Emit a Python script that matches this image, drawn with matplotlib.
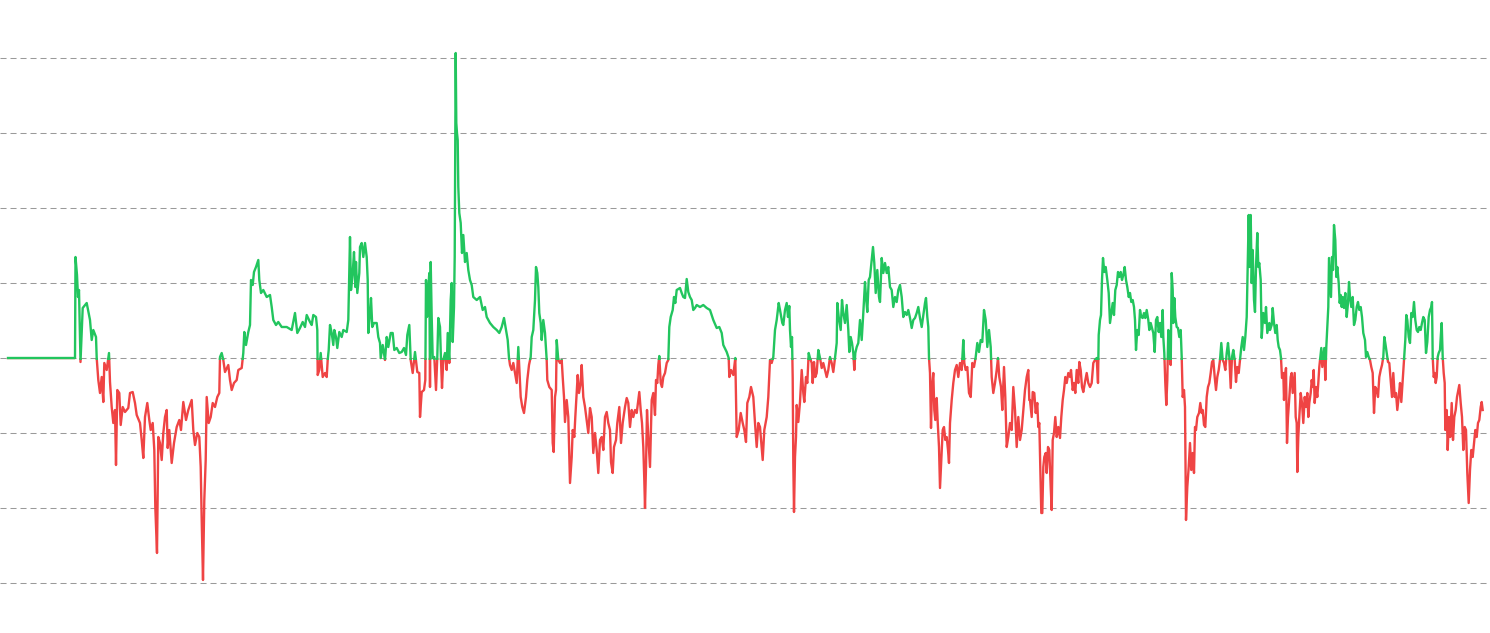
import matplotlib
matplotlib.use("Agg")
import matplotlib.pyplot as plt
from matplotlib.patches import Rectangle

# time index and value relative to the baseline (arbitrary units, grid step = 75)
t = [8, 75, 75.5, 77, 78, 79, 80.5, 81.5, 82.7, 86.7, 90, 91.7, 93.3, 96, 96.7, 98.3, 100, 101.7, 103.3, 104.3,
     106.7, 109, 110, 111.7, 113.3, 115, 116, 117.3, 119.3, 120.7, 122.7, 125, 128.3, 130, 132.7, 135, 136.7, 140,
     141.7, 143.3, 145, 147.3, 149.3, 150.7, 152.7, 154.3, 155.3, 157, 158.3, 160, 161.7, 163.3, 165, 166.7, 167.7,
     169.3, 171.7, 174, 176.7, 179.3, 181, 183.3, 186, 188.3, 191.7, 193.3, 195, 197.3, 199.3, 200.7, 201.7, 203,
     204.3, 205.7, 206.7, 208.7, 210.7, 212.7, 215, 217.3, 219.3, 220, 221.7, 223.3, 225, 228.3, 230, 231.7, 234,
     236.7, 238.3, 241.7, 243.3, 244.3, 246, 248.3, 250, 251, 252.7, 254, 256, 258.3, 259.3, 261, 263.3, 266.7, 270,
     271.7, 273.3, 276, 278.3, 281.7, 286.7, 291.7, 295, 297.3, 300, 302.7, 305, 306.7, 310,
     311.7, 313.3, 316, 317.3, 317.7, 319.3, 320.7, 322.7, 325, 326.7, 327.7, 328.7, 330, 331.7, 333.3, 334.3, 336,
     337.3, 339.3, 341.7, 343.3, 346.7, 348.3, 349.3, 350, 351, 352.7, 354, 355.3, 356, 357.3, 359.3, 360, 361.7,
     363.3, 365, 366.7, 367.7, 368.3, 370, 371, 372.3, 374, 376.7, 378.3, 380, 380.7, 382.7, 385, 386.7, 388.3, 390.7,
     392.7, 394.3, 396.7, 399.3, 401.7, 404, 406, 407.3, 409.3, 410.7, 412.7, 415, 417.3, 419.3, 420, 421.7, 424,
     425.3, 426, 427, 428, 429.3, 430, 430.7, 431.7, 432.7, 434.3, 436, 437.3, 438.3, 440, 441, 442, 443.3, 445,
     446.7, 447.7, 449.3, 450.7, 451.7, 452.7, 454, 454.7, 455.3, 455.7, 456.3, 457, 457.7, 458.3, 459.3, 460.7, 462,
     463.3, 465, 466.7, 468.3, 470, 471.7, 473.3, 476.7, 480, 482.7, 485, 486.7, 490, 493.3, 496.7, 499.3, 501.7, 504,
     506, 507.7, 509, 510, 511.7, 513.3, 515, 516.7, 518.3, 519.3, 520.7, 522.3, 524, 526, 527.3, 529, 530.7, 531.7,
     533.3, 535, 536, 537.3, 538.3, 539.3, 540.7, 541.7, 543.3, 545, 546.7, 547.3, 549.3,
     551.7, 552.7, 553.7, 555, 556, 556.7, 558.3, 560, 561.7, 562.7, 564, 565, 566.7, 568.3, 570, 571.7, 572.7, 574.3,
     575.3, 576.7, 577.7, 579, 580.7, 581.7, 583.3, 585, 586.7, 588.3, 590, 591.7, 593.3, 595, 596.7, 598.3, 600,
     601.7, 603.3, 605, 606.7, 608.3, 610, 611, 612.7, 614, 616, 617.3, 619.3, 621, 622.7, 625, 626.7, 628.3, 630,
     631.7, 633.3, 635, 636.7, 638.3, 639.3, 640.7, 642, 643.3, 644.3, 645, 646, 647, 648.3, 650, 651.7, 653.3, 655,
     656, 657.3, 658.3, 659.3, 660.7, 662, 663.3, 665, 666.7, 668.3, 669.3, 670.7, 672.7, 674, 675.3, 676.7, 680,
     681.7, 683.3, 685, 686.7, 688.3, 690, 691.7, 693.3, 695, 696.7, 700, 703.3, 706.7, 710, 713.3, 716.7, 719.3,
     721.7, 723.3, 726.7, 728.7, 729.3, 731, 733.3, 735.3, 736.7, 738.7, 740.7, 742.7, 744.3, 746, 747.3, 749.3, 751,
     753.3, 755, 756.7, 758.3, 760, 762.7, 764.3, 766.7, 768.3, 770, 771.7, 773.3, 775, 776.7, 778.7, 780, 782.3,
     783.3, 785, 786.7, 788, 789.3, 790, 791, 792, 792.7, 793.3, 794, 795, 796, 796.7, 798.3, 800, 801.7, 803.3, 804.3,
     806, 807.3, 808.7, 810, 811.7, 812.7, 814, 815.3, 816.7, 818.3, 820, 821.7, 823.3, 825, 826.7, 828.3, 830, 831.7,
     833.3, 835, 836.7, 837.3, 838.7, 840.7, 842, 843.3, 845, 846.7, 848.3, 849.3, 850.7, 852, 853.3, 854.3, 855.3,
     856.7, 858.3, 860, 861.7, 863.3, 865, 866, 867.3, 868.7, 870, 871.7, 873, 874.3, 875.7, 877.3, 879, 880, 881.7,
     883.3, 885, 886.7, 888.3, 890, 891.7, 893.3, 895, 896.7, 898.3, 900, 901.7, 903.3, 905, 906.7, 908.3, 910, 911.7,
     913.3, 915, 916.7, 918.3, 920, 921.7, 923.3, 925, 926, 927.3, 928.3, 929, 930, 931, 932, 933.3, 934.3, 935.3,
     936.7, 937.7, 939, 940, 941.3, 942.7, 944, 945.3, 946.7, 948, 949, 950, 951.7, 953.3, 955, 956.7, 958.3, 960,
     961.7, 963.3, 964.3, 965.7, 967.3, 969, 970.7, 972.3, 974, 975.7, 977.3, 979, 980.7, 982.3, 984, 985.7, 987.3,
     989, 990.7, 991.7, 993.3, 995, 996.7, 998, 999.3, 1001, 1002.3, 1004, 1005.3, 1006.7, 1008.3, 1010, 1011.7,
     1013.3, 1015, 1016.7, 1018.3, 1020, 1021.7, 1023.3, 1025, 1026.7, 1028.3, 1029.3,
     1030, 1031.7, 1032.7, 1034.3, 1035.7, 1037.3, 1038.3, 1039.3, 1040.7, 1041.3, 1042.3, 1043.3, 1044.3, 1045.7,
     1046.7, 1048, 1049.3, 1050.7, 1051.7, 1052.7, 1054, 1055.3, 1056.7, 1058.3, 1060, 1061.3, 1062.7, 1064, 1065.3,
     1066.7, 1068.3, 1070, 1071, 1072.7, 1074, 1075.3, 1076.7, 1078.3, 1079.3, 1080.7, 1082, 1083.3, 1085, 1086.7,
     1088.3, 1090, 1091.7, 1093.3, 1095, 1096.7, 1098, 1098.7, 1100, 1101, 1102, 1103, 1104.3, 1105.7, 1107.3, 1108.7,
     1110, 1111.3, 1112.7, 1114, 1115.3, 1116.7, 1118, 1119.3, 1120.7, 1122, 1123.3, 1124.7, 1126, 1127.3, 1128.7,
     1130, 1131.3, 1132.7, 1134, 1135, 1136, 1137.3, 1138.7, 1140, 1141.3, 1142.7, 1144, 1145.3, 1146.7, 1148.3,
     1149.3, 1150.7, 1152, 1153.3, 1154.7, 1156, 1157.3, 1158.7, 1160, 1161.3, 1162.7, 1163.3, 1164.3, 1165.3, 1166.3,
     1167.3, 1168.3, 1169.3, 1170.7, 1171.7, 1172.7, 1173.3, 1174.3, 1175.3, 1176.7, 1178, 1179.3, 1180.7, 1181.7,
     1182.7, 1184, 1185, 1186, 1187.3, 1188.7, 1190, 1191.3, 1192.7, 1194, 1195, 1196, 1197.3, 1199, 1200.3, 1201.7,
     1202.7, 1204, 1205.3, 1206.7, 1208, 1209.3, 1210.7, 1212, 1213.3, 1214.7, 1216, 1217.3, 1218.7, 1220, 1221.3,
     1222.7, 1224, 1225.3, 1226.7, 1228, 1229.3, 1230.7, 1232, 1233.3, 1234.7, 1236, 1237.3, 1238.7, 1240, 1241.3,
     1242.7, 1244, 1245.3, 1246.7, 1247.7, 1248.7, 1249.7, 1250.7, 1251.7, 1252.7, 1254, 1255, 1256, 1257.3, 1258.3,
     1259.3, 1260.7, 1261.7, 1263.3, 1265, 1266, 1267.3, 1269.3,
     1270, 1271.7, 1272.7, 1274, 1275.3, 1276.7, 1277.7, 1278.7, 1280, 1281, 1282, 1283.3, 1284, 1285, 1286, 1287,
     1288, 1289.3, 1290.7, 1291.7, 1292.7, 1293.7, 1294.7, 1295.7, 1296.7, 1297.3, 1298.3, 1299.3, 1300.7, 1302,
     1303.3, 1304.7, 1306, 1307.3, 1308.3, 1309.3, 1310.7, 1311.7, 1312.7, 1313.7, 1314.7, 1316, 1317.3, 1318.3,
     1319.3, 1320.3, 1321.3, 1322.3, 1323.3, 1324.3, 1325.3, 1326.3, 1327.3, 1328.3, 1329, 1330, 1331, 1332, 1333,
     1334, 1335.3, 1336.3, 1337.3, 1338.7, 1339.7, 1340.7, 1341.7, 1342.7, 1344, 1345.3, 1346.7, 1348, 1349, 1350,
     1351.3, 1352.7, 1354, 1355.3, 1356.7, 1358, 1359.3, 1360.7, 1362, 1363.3, 1365, 1366, 1367.3, 1368.7, 1370,
     1371.3, 1372.7, 1374, 1375.3, 1376.7, 1378, 1379.3, 1380.7, 1382, 1383.3, 1384.3, 1385.3, 1386.7, 1388, 1389.3,
     1390.7, 1392, 1393.3, 1394.7, 1396, 1397.3, 1398.7, 1400, 1401.3, 1402.7, 1404, 1405.3, 1406.3, 1407.3, 1408.7,
     1410, 1411.3, 1412.7, 1414, 1415.3, 1416.7, 1418, 1419.3, 1420.7, 1422, 1423.3, 1424.7, 1426, 1427.3, 1428.7,
     1430, 1431.3, 1432, 1432.7, 1433.7, 1434.7, 1435.7, 1436.7, 1437.7, 1438.7, 1440, 1441, 1441.7, 1442.7, 1443.7,
     1444.7, 1445.3, 1446.7, 1447.7, 1449, 1450.3, 1451.7, 1453, 1454.3, 1455.7, 1457, 1458.3, 1459.3, 1460.7, 1462,
     1463.3, 1464.7, 1466, 1467.3, 1468.7, 1470, 1471.3, 1472.7, 1474, 1475.3, 1476.7, 1478, 1479.3, 1480.7, 1481.7,
     1482.7]

v = [0, 0, 101, 83, 61, 68, -4, 21, 50, 55, 38, 18, 28, 21, 0, -22, -35, -19, -44, -5,
     -12, 5, -24, -49, -65, -52, -107, -32, -35, -67, -49, -54, -50, -35, -34, -45, -57, -65,
     -82, -100, -59, -45, -62, -72, -65, -92, -149, -195, -79, -85, -102, -75, -59, -52, -90,
     -72, -105, -85, -69, -62, -72, -44, -62, -52, -42, -72, -87, -75, -79, -109, -162, -222,
     -142, -102, -39, -65, -59, -45, -49, -39, -35, 1, 5, -2, -14, -7, -22, -32, -25,
     -22, -12, -10, 5, 26, 13, 26, 33, 78, 73, 86, 91, 98, 78, 65, 68, 61, 63,
     51, 38, 33, 36, 31, 31, 28, 45, 25, 30, 36, 31, 43, 36,
     33, 43, 41, 28, -17, -12, 5, -19, -15, -19, -2, 8, 33, 25, 13, 28, 21,
     10, 26, 21, 28, 26, 38, 85, 121, 68, 85, 106, 71, 96, 65, 85, 111, 115,
     101, 115, 101, 78, 25, 45, 60, 31, 35, 35, 21, 15, 0, 13, -2, 21, 11, 25,
     25, 8, 10, 5, 6, 10, 3, 23, 33, -2, -15, 6, -14, -15, -59, -34, -32,
     -22, 78, 41, 65, 85, -29, 96, 41, 0, 1, -32, 1, 40, 31, -2, -30, -2, 5,
     -12, 25, -5, 58, 75, 16, 51, 101, 218, 305, 235, 225, 218, 171, 145, 135, 105,
     123, 96, 105, 88, 78, 73, 61, 58, 61, 48, 51, 41, 35, 31, 28, 25, 31, 40,
     28, 18, 0, -7, -12, -5, -15, -25, 11, -10, -39, -49, -55, -39, -22, -7, 1, 21,
     28, 58, 91, 85, 71, 45, 35, 18, 38, 25, -2, -22, -29,
     -32, -85, -94, -39, -32, 18, -2, -5, -2, -19, -39, -64, -42, -59, -125, -99, -72, -79,
     -59, -35, -17, -35, -25, -7, -39, -49, -62, -75, -50, -59, -95, -75, -92, -115, -82,
     -79, -92, -59, -54, -65, -72, -104, -115, -89, -82, -65, -49, -85, -65, -49, -40, -45, -69,
     -52, -59, -52, -55, -42, -34, -52, -65, -89, -122, -150, -109, -52, -79, -109, -42, -35, -57,
     -22, -25, -7, 2, -25, -29, -19, -15, -5, -2, 31, 41, 48, 61, 55, 68, 70,
     65, 61, 60, 79, 66, 61, 58, 48, 50, 53, 51, 53, 50, 48, 38, 30, 31,
     25, 13, 6, 0, -19, -12, -17, 0, -79, -72, -55, -65, -72, -84, -45, -39, -29,
     -39, -65, -89, -65, -69, -102, -72, -59, -39, -2, -5, 1, 28, 38, 55, 48, 35,
     33, 48, 55, 41, 52, 28, 11, 21, -20, -105, -154, -99, -79, -47, -64, -44, -12, -35, -44,
     -19, -25, 5, 0, -5, -25, -4, -19, -15, 8, 0, -10, -5, -12, -19, -12, 1, -5,
     -14, 0, 15, 55, 41, 28, 58, 45, 35, 53, 28, 6, 21, 15, 5, -12, 5,
     11, 15, 38, 18, 45, 76, 61, 46, 78, 81, 98, 111, 95, 65, 88, 61, 56, 100,
     85, 95, 85, 91, 71, 68, 51, 61, 56, 68, 73, 61, 41, 46, 43, 48, 40, 30,
     38, 40, 45, 51, 40, 31, 43, 55, 60, 41, 31, 0, -15, -70, -29, -15, -52, -62,
     -40, -64, -89, -130, -102, -72, -69, -82, -79, -92, -105, -65, -42, -25, -12, -7, -19, -5,
     -12, 18, -5, -12, -9, -35, -39, -5, -9, 1, 15, 6, 18, 16, 48, 38, 11,
     28, 11, -19, -35, -25, -12, 0, -19, -29, -52, -9, -39, -89, -79, -65, -72,
     -29, -52, -89, -59, -82, -72, -52, -32, -19, -12, -42,
     -42, -59, -34, -35, -55, -45, -69, -65, -125, -155, -155, -109, -99, -95,
     -115, -89, -92, -129, -152, -82, -75, -59, -79, -69, -80, -59, -42, -32, -19,
     -25, -15, -19, -12, -32, -25, -35, -12, -25, -4, -12, -29, -34, -24, -15,
     -25, -29, -25, -5, -2, 0, -25, 23, 38, 43, 78, 100, 86, 91, 78, 65,
     35, 45, 55, 43, 68, 73, 86, 81, 86, 78, 83, 91, 78, 71, 61,
     65, 56, 58, 51, 38, 8, 28, 23, 48, 41, 40, 45, 40, 48, 38,
     28, 35, 30, 25, 6, 38, 41, 26, 35, 21, 48, 21, 5, -25, -47,
     -22, 28, 11, -7, 85, 68, 35, 60, 41, 31, 30, 21, 28, 1,
     -39, -32, -49, -162, -129, -109, -85, -112, -95, -115, -69, -72, -59, -55, -45, -55,
     -52, -67, -69, -39, -29, -25, -15, -4, -2, -19, -32, -19, -12, -2, 15,
     -2, -5, -12, 5, 15, 1, -30, 1, 8, -2, -24, -9, -15, -2, 11,
     21, 8, 21, 41, 91, 143, 91, 143, 75, 108, 58, 46, 91, 125, 91,
     95, 78, 20, 45, 35, 51, 25, 35,
     28, 33, 50, 35, 25, 33, 18, 11, 8, 0, -20, -15, -42, -19, -10, -85,
     -59, -39, -19, -15, -35, -25, -15, -59, -65, -114, -79, -59, -35, -45,
     -65, -39, -49, -35, -59, -45, -35, -22, -29, -12, -45, -29, -39, -25,
     -9, 1, 10, -9, 1, 10, -22, 11, 31, 51, 100, 81, 61, 101, 88,
     133, 118, 81, 91, 75, 55, 63, 51, 61, 50, 65, 41, 55, 76, 61,
     51, 61, 33, 38, 51, 56, 48, 51, 41, 25, 18, 1, 6, 1, -2,
     -9, -15, -55, -29, -32, -39, -19, -12, -7, 1, 21, 15, 5, -4, -5,
     -22, -39, -15, -39, -35, -52, -39, -25, -44, -22, -2, 18, 43, 38, 21,
     15, 45, 41, 56, 38, 28, 26, 31, 28, 35, 41, 38, 5, 16, 41,
     48, 51, 56, 1, -19, -15, -25, -19, 1, 5, 8, 25, 35, 1, -15,
     -25, -72, -52, -92, -59, -79, -45, -82, -59, -52, -39, -32, -27, -45, -59,
     -92, -69, -72, -115, -145, -112, -92, -99, -85, -72, -79, -65, -62, -49, -44,
     -52]

grid_levels = [-225, -150, -75, 0, 75, 150, 225, 300]

up_color = "#22c55e"
down_color = "#ef4444"

fig = plt.figure(figsize=(14.9, 6.33), dpi=100)
ax = fig.add_axes([0, 0, 1, 1])
ax.set_xlim(0, 1490)
ax.set_ylim(-275, 358)

for g in grid_levels:
    ax.axhline(g, color="#9a9a9a", lw=0.75, dashes=(5.8, 3.8), zorder=0)

# same series drawn twice, each clipped to one side of the baseline
down, = ax.plot(t, v, color=down_color, lw=1.7, zorder=2)
up, = ax.plot(t, v, color=up_color, lw=1.7, zorder=3)
up.set_clip_path(Rectangle((-100, -1.5), 2000, 1000, transform=ax.transData))
down.set_clip_path(Rectangle((-100, -1000), 2000, 1000, transform=ax.transData))

ax.axis("off")
fig.savefig("out.png", dpi=100)
